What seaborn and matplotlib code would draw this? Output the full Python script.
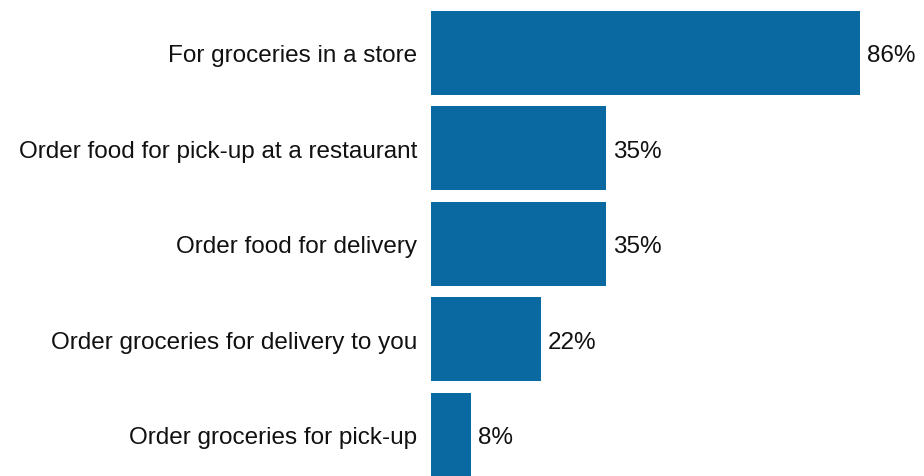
import matplotlib
matplotlib.use("Agg")
import matplotlib.pyplot as plt
import seaborn as sns
import pandas as pd

activities = [
    "For groceries in a store",
    "Order food for pick-up at a restaurant",
    "Order food for delivery",
    "Order groceries for delivery to you",
    "Order groceries for pick-up",
]
shares = [86, 35, 35, 22, 8]

df = pd.DataFrame({"activity": activities, "share": shares})

sns.set_style("white")
plt.rcParams["font.family"] = ["Liberation Sans", "DejaVu Sans"]

fig = plt.figure(figsize=(9.24, 4.77), dpi=100)
ax = fig.add_axes([431 / 924, 0, 493 / 924, 1])

sns.barplot(data=df, x="share", y="activity", color="#0a69a1",
            saturation=1, width=0.88, ax=ax, orient="h", linewidth=0)

ax.set_xlim(0, 98.8)
ax.set_ylim(4.43, -0.565)

for i, v in enumerate(shares):
    ax.text(v + 1.4, i, f"{v}%", va="center_baseline", ha="left",
            fontsize=17.5, color="#111111")

ax.set_xlabel("")
ax.set_ylabel("")
ax.set_xticks([])
ax.tick_params(axis="y", length=0, pad=10, labelsize=17.5, labelcolor="#111111")
for s in ax.spines.values():
    s.set_visible(False)

fig.savefig("out.png", dpi=100)
